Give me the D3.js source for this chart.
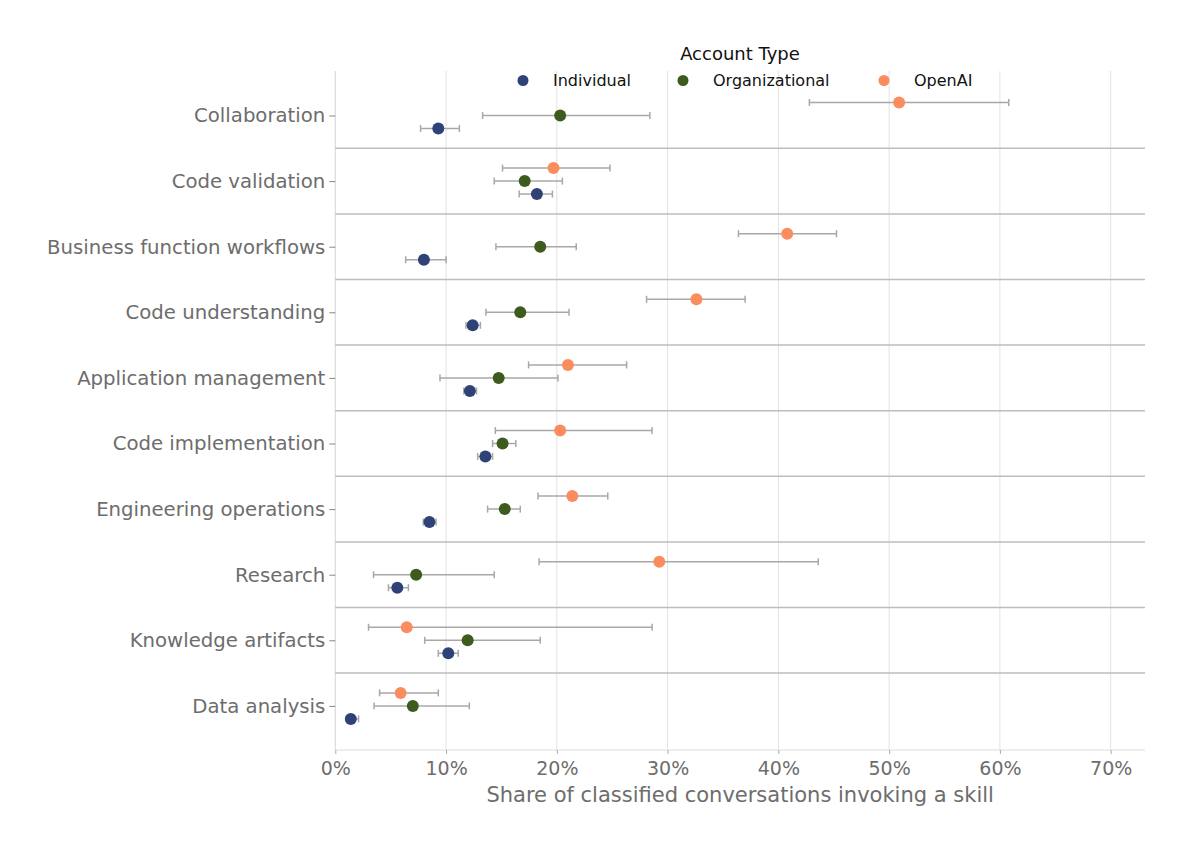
<!DOCTYPE html>
<html><head><meta charset="utf-8">
<script src="https://cdn.jsdelivr.net/npm/d3@7"></script>
<style>body{margin:0;background:#fff}svg{font-family:"DejaVu Sans",sans-serif}</style>
</head><body><svg id="c" width="1183" height="849"></svg>
<script>
const categories = ["Collaboration","Code validation","Business function workflows","Code understanding","Application management","Code implementation","Engineering operations","Research","Knowledge artifacts","Data analysis"];
const seriesNames = ["Individual","Organizational","OpenAI"];
const seriesColors = ["#2E4277","#3E5B1F","#FB8C5E"];
// values in percent: [point, low, high]
const individual = [[9.3,7.7,11.2],[18.2,16.6,19.6],[8.0,6.35,10.0],[12.4,11.8,13.1],[12.15,11.6,12.75],[13.55,12.85,14.2],[8.5,7.95,9.1],[5.6,4.8,6.6],[10.2,9.3,11.1],[1.4,1.0,2.1]];
const organizational = [[20.3,13.3,28.4],[17.1,14.35,20.5],[18.5,14.5,21.75],[16.7,13.6,21.1],[14.75,9.45,20.1],[15.1,14.2,16.3],[15.3,13.75,16.7],[7.3,3.45,14.35],[11.95,8.07,18.5],[7.0,3.5,12.1]];
const openai = [[50.9,42.8,60.8],[19.7,15.1,24.8],[40.8,36.4,45.25],[32.6,28.1,37.0],[21.0,17.45,26.3],[20.3,14.45,28.6],[21.4,18.3,24.6],[29.25,18.4,43.6],[6.45,3.0,28.6],[5.9,4.0,9.3]];
const xTicks = [0,10,20,30,40,50,60,70];
const xLabel = "Share of classified conversations invoking a skill";
const legendTitle = "Account Type";

(function(){
const svg = d3.select("#c");
const x = d3.scaleLinear().domain([0,73.1]).range([335.3,1145]);
const y = d3.scaleLinear().domain([0,9]).range([115.5,705.9]);
const plotTop = 71, plotBottom = 750;
const step = y(1)-y(0);
const offsets = [13,0,-13];
const allSeries = [individual, organizational, openai];

svg.append("g").selectAll("line").data(xTicks).join("line")
  .attr("x1",d=>x(d)).attr("x2",d=>x(d)).attr("y1",plotTop).attr("y2",plotBottom)
  .attr("stroke","#e3e3e3").attr("stroke-width",1);
svg.append("line").attr("x1",x(0)).attr("x2",x(0)).attr("y1",plotTop).attr("y2",plotBottom).attr("stroke","#dcdcdc").attr("stroke-width",1);
svg.append("line").attr("x1",x(0)).attr("x2",1145).attr("y1",plotBottom).attr("y2",plotBottom).attr("stroke","#dcdcdc").attr("stroke-width",1);
svg.append("g").selectAll("line").data(d3.range(categories.length-1)).join("line")
  .attr("x1",x(0)).attr("x2",1145).attr("y1",i=>y(i)+step/2).attr("y2",i=>y(i)+step/2)
  .attr("stroke","#bdbdbd").attr("stroke-width",1.5);

const xAxis = svg.append("g").attr("transform",`translate(0,${plotBottom})`)
  .call(d3.axisBottom(x).tickValues(xTicks).tickFormat(d=>d+"%").tickSize(4).tickPadding(7.5));
xAxis.select(".domain").remove();
xAxis.selectAll("line").attr("stroke","#aaa");
xAxis.selectAll("text").attr("fill","#6d6d6d").style("font-size","19px").style("font-family","DejaVu Sans");
const yAxis = svg.append("g").attr("transform",`translate(${x(0)},0)`)
  .call(d3.axisLeft(y).tickValues(d3.range(categories.length)).tickFormat(i=>categories[i]).tickSize(6).tickPadding(4));
yAxis.select(".domain").remove();
yAxis.selectAll("line").attr("stroke","#888");
yAxis.selectAll("text").attr("fill","#6d6d6d").style("font-size","19.7px").style("font-family","DejaVu Sans");

svg.append("text").attr("x",(x(0)+1145)/2).attr("y",802).attr("text-anchor","middle")
  .attr("fill","#6d6d6d").style("font-size","21px").text(xLabel);

allSeries.forEach((data,s)=>{
  const g = svg.append("g");
  const off = offsets[s];
  g.selectAll("line.e").data(data).join("line").attr("class","e")
    .attr("x1",d=>x(d[1])).attr("x2",d=>x(d[2])).attr("y1",(d,i)=>y(i)+off).attr("y2",(d,i)=>y(i)+off)
    .attr("stroke","#a8a8a8").attr("stroke-width",1.5);
  [1,2].forEach(k=>{
    g.selectAll("line.c"+k).data(data).join("line").attr("class","c"+k)
      .attr("x1",d=>x(d[k])).attr("x2",d=>x(d[k])).attr("y1",(d,i)=>y(i)+off-3.5).attr("y2",(d,i)=>y(i)+off+3.5)
      .attr("stroke","#a8a8a8").attr("stroke-width",1.5);
  });
});
allSeries.forEach((data,s)=>{
  svg.append("g").selectAll("circle").data(data).join("circle")
    .attr("cx",d=>x(d[0])).attr("cy",(d,i)=>y(i)+offsets[s]).attr("r",6)
    .attr("fill",seriesColors[s]);
});

svg.append("text").attr("x",740).attr("y",60).attr("text-anchor","middle").attr("fill","#111")
  .style("font-size","18px").text(legendTitle);
const legX = [523,683,884];
seriesNames.forEach((n,i)=>{
  svg.append("circle").attr("cx",legX[i]).attr("cy",80.5).attr("r",5.5).attr("fill",seriesColors[i]);
  svg.append("text").attr("x",legX[i]+30).attr("y",85.5).attr("fill","#111").style("font-size","16px").text(n);
});
})();
</script></body></html>
